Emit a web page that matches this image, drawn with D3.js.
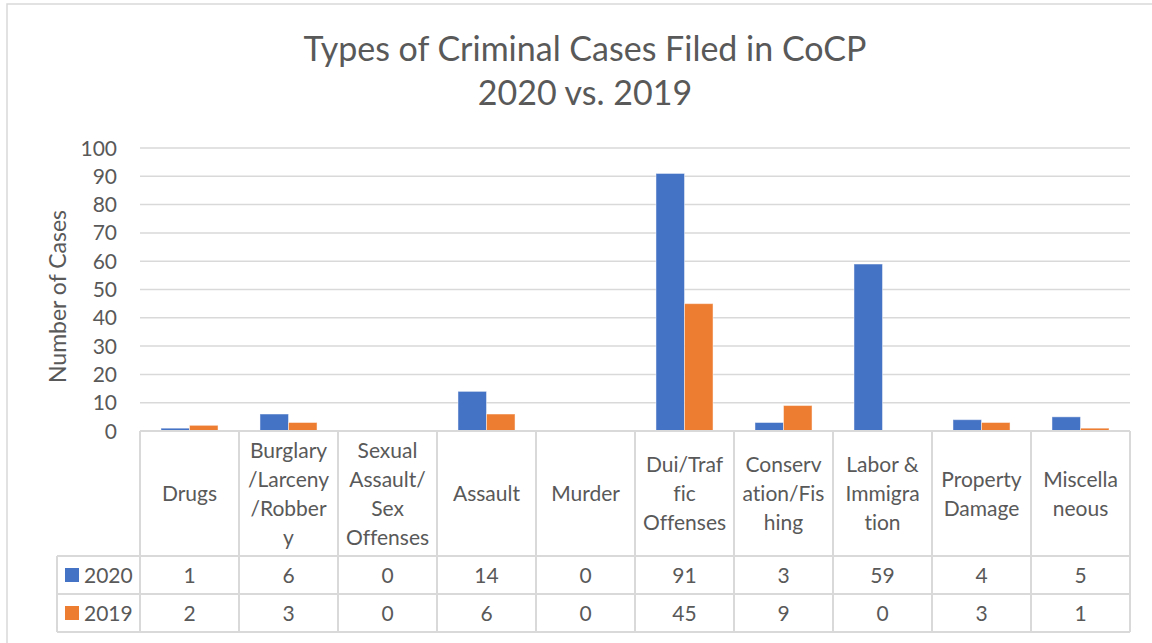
<!DOCTYPE html>
<html>
<head>
<meta charset="utf-8">
<script src="https://cdn.jsdelivr.net/npm/d3@7"></script>
<style>
  body { margin: 0; background: #fff; }
  svg { display: block; font-family: Lato, "Open Sans", sans-serif; font-variant-ligatures: none; }
</style>
</head>
<body>
<svg id="chart" width="1152" height="643"></svg>
<script>
// chart data
const categories = ['Drugs', 'Burglary/Larceny/Robbery', 'Sexual Assault/Sex Offenses', 'Assault', 'Murder',
  'Dui/Traffic Offenses', 'Conservation/Fishing', 'Labor & Immigration', 'Property Damage', 'Miscellaneous'];
// how the labels wrap in the table header
const labelLines = [
  ['Drugs'], ['Burglary', '/Larceny', '/Robber', 'y'], ['Sexual', 'Assault/', 'Sex', 'Offenses'],
  ['Assault'], ['Murder'], ['Dui/Traf', 'fic', 'Offenses'], ['Conserv', 'ation/Fis', 'hing'],
  ['Labor &', 'Immigra', 'tion'], ['Property', 'Damage'], ['Miscella', 'neous']
];
const seriesNames = ['2020', '2019'];
const values2020 = [1, 6, 0, 14, 0, 91, 3, 59, 4, 5];
const values2019 = [2, 3, 0, 6, 0, 45, 9, 0, 3, 1];
const yTicks = [0, 10, 20, 30, 40, 50, 60, 70, 80, 90, 100];
const colors = ['#4472C4', '#ED7D31'];

const series = [values2020, values2019];
const textColor = '#595959';
const lineColor = '#d9d9d9';

const svg = d3.select('#chart');

// outer chart border
svg.append('rect')
  .attr('x', 7).attr('y', 4)
  .attr('width', 1200).attr('height', 700)
  .attr('fill', 'none').attr('stroke', lineColor).attr('stroke-width', 1.5);

// plot area
const plotLeft = 140, plotRight = 1130, plotTop = 148, plotBottom = 431;
const headerBottom = 556, rowH = 38;

const x = d3.scaleBand().domain(categories).range([plotLeft, plotRight]).padding(0);
const bw = x.bandwidth();
const xs = d3.scaleBand().domain(seriesNames).range([bw * 0.212, bw * 0.788]).padding(0);
const y = d3.scaleLinear().domain([0, 100]).range([plotBottom, plotTop]);

// gridlines
svg.append('g')
  .selectAll('line')
  .data(yTicks.filter(d => d > 0))
  .join('line')
  .attr('x1', plotLeft).attr('x2', plotRight)
  .attr('y1', d => y(d)).attr('y2', d => y(d))
  .attr('stroke', lineColor).attr('stroke-width', 1.5);

// y tick labels
svg.append('g')
  .selectAll('text')
  .data(yTicks)
  .join('text')
  .attr('x', 117)
  .attr('y', d => y(d) + 7.5)
  .attr('text-anchor', 'end')
  .attr('font-size', 21)
  .attr('fill', textColor)
  .text(d => d);

// y axis title
svg.append('text')
  .attr('transform', `translate(66, ${(plotTop + plotBottom) / 2 + 7}) rotate(-90)`)
  .attr('text-anchor', 'middle')
  .attr('font-size', 23)
  .attr('fill', textColor)
  .text('Number of Cases');

// bars
series.forEach((vals, si) => {
  svg.append('g')
    .selectAll('rect')
    .data(vals)
    .join('rect')
    .attr('x', (d, i) => x(categories[i]) + xs(seriesNames[si]))
    .attr('width', xs.bandwidth())
    .attr('y', d => y(d))
    .attr('height', d => y(0) - y(d))
    .attr('fill', colors[si])
    .attr('stroke', d => d > 0 ? 'rgba(255,255,255,0.45)' : 'none')
    .attr('stroke-width', 1);
});

// data table
const table = svg.append('g');
const tableBottom = headerBottom + rowH * 2;

// horizontal lines
table.append('line')
  .attr('x1', plotLeft).attr('x2', plotRight).attr('y1', plotBottom).attr('y2', plotBottom)
  .attr('stroke', lineColor).attr('stroke-width', 2);
[headerBottom, headerBottom + rowH, tableBottom].forEach(yy => {
  table.append('line')
    .attr('x1', 57).attr('x2', plotRight).attr('y1', yy).attr('y2', yy)
    .attr('stroke', lineColor).attr('stroke-width', 2);
});

// vertical lines
const bounds = categories.map(c => x(c)).concat([plotRight]);
table.selectAll('line.v')
  .data(bounds)
  .join('line')
  .attr('class', 'v')
  .attr('x1', d => d).attr('x2', d => d)
  .attr('y1', plotBottom).attr('y2', tableBottom)
  .attr('stroke', lineColor).attr('stroke-width', 2);
table.append('line')
  .attr('x1', 57).attr('x2', 57).attr('y1', headerBottom).attr('y2', tableBottom)
  .attr('stroke', lineColor).attr('stroke-width', 2);

// category labels
const headerMid = (plotBottom + headerBottom) / 2;
categories.forEach((c, i) => {
  const lines = labelLines[i];
  table.append('text')
    .attr('text-anchor', 'middle')
    .attr('font-size', 21)
    .attr('fill', textColor)
    .selectAll('tspan')
    .data(lines)
    .join('tspan')
    .attr('x', x(c) + bw / 2)
    .attr('y', (d, j) => headerMid + (j - (lines.length - 1) / 2) * 29 + 7.5)
    .text(d => d);
});

// value rows with legend keys
series.forEach((vals, si) => {
  const rowMid = headerBottom + rowH * si + rowH / 2;
  table.append('rect')
    .attr('x', 65).attr('y', rowMid - 7)
    .attr('width', 14).attr('height', 14)
    .attr('fill', colors[si]);
  table.append('text')
    .attr('x', 84).attr('y', rowMid + 7.5)
    .attr('font-size', 21)
    .attr('fill', textColor)
    .text(seriesNames[si]);
  table.append('g')
    .selectAll('text')
    .data(vals)
    .join('text')
    .attr('x', (d, i) => x(categories[i]) + bw / 2)
    .attr('y', rowMid + 7.5)
    .attr('text-anchor', 'middle')
    .attr('font-size', 21)
    .attr('fill', textColor)
    .text(d => d);
});

// title
const title = svg.append('text')
  .attr('text-anchor', 'middle')
  .attr('font-size', 34)
  .attr('fill', textColor);
title.append('tspan').attr('x', 585).attr('y', 61).text('Types of Criminal Cases Filed in CoCP');
title.append('tspan').attr('x', 585).attr('y', 105).text('2020 vs. 2019');
</script>
</body>
</html>
